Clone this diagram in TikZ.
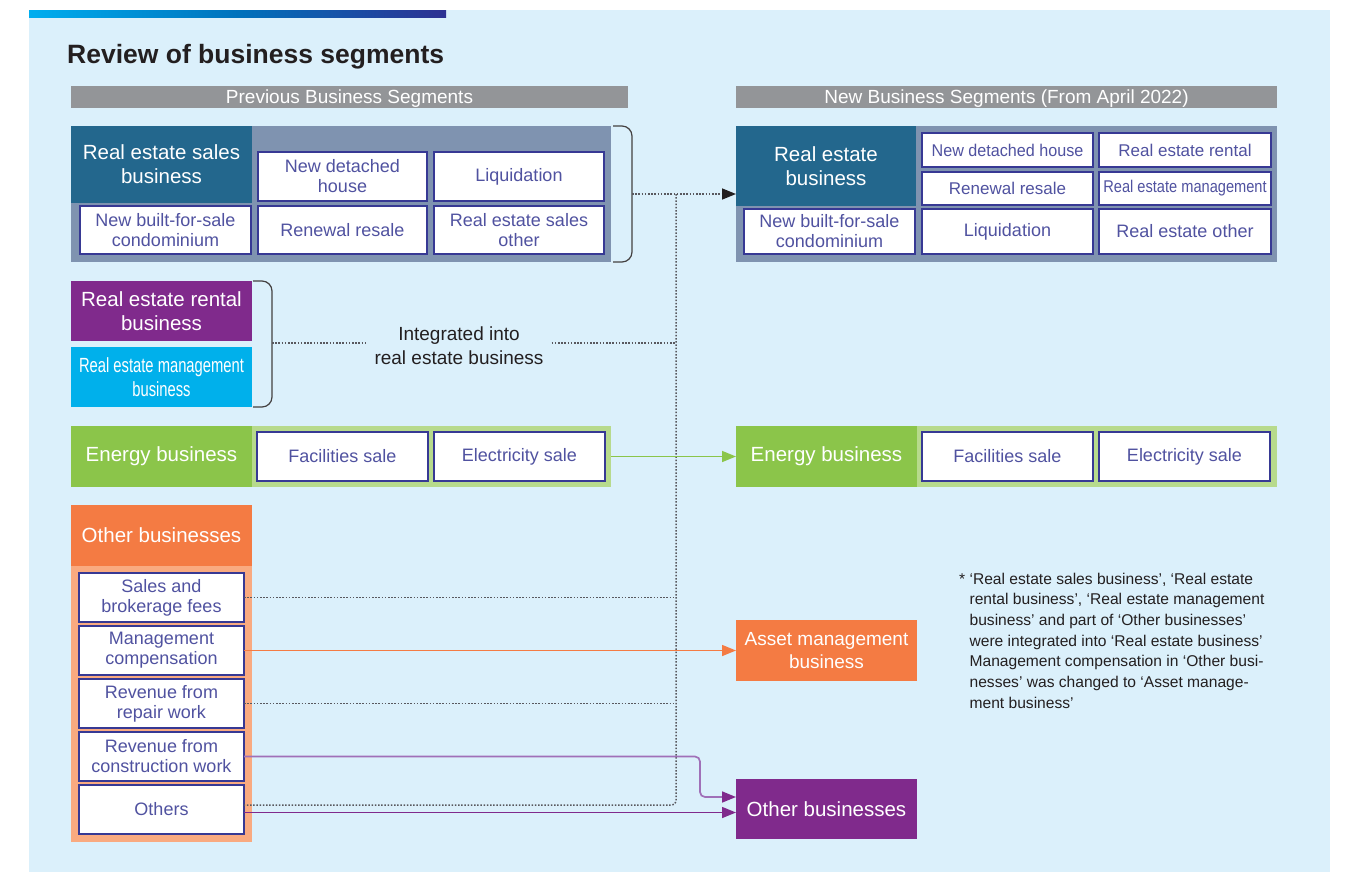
\documentclass[tikz,border=0pt]{standalone}
\usepackage{fontspec}
\setmainfont{Liberation Sans}
\newfontfamily\narrowA[FakeStretch=0.72]{Liberation Sans}
\newfontfamily\narrowB[FakeStretch=0.86]{Liberation Sans}
\newfontfamily\narrowC[FakeStretch=0.95]{Liberation Sans}
\usetikzlibrary{arrows.meta,calc}
\definecolor{bgblue}{RGB}{219,240,251}
\definecolor{slate}{RGB}{127,147,176}
\definecolor{reTeal}{RGB}{35,103,141}
\definecolor{rePurple}{RGB}{128,42,140}
\definecolor{reCyan}{RGB}{0,176,235}
\definecolor{enGreen}{RGB}{139,197,74}
\definecolor{enLight}{RGB}{183,218,140}
\definecolor{obOrange}{RGB}{244,123,67}
\definecolor{obSalmon}{RGB}{249,170,128}
\definecolor{hdrGray}{RGB}{147,149,152}
\definecolor{darkText}{RGB}{35,31,32}
\definecolor{bordC}{RGB}{55,57,148}
\definecolor{labC}{RGB}{80,82,160}
\definecolor{dotC}{RGB}{88,88,94}
\definecolor{lilac}{RGB}{160,112,184}
\definecolor{gradL}{RGB}{0,174,239}
\definecolor{gradM}{RGB}{0,114,188}
\definecolor{gradR}{RGB}{46,49,146}
\newcommand\mkbox[7]{\node[#1, minimum width={#5-#3}, minimum height={#6-#4}] (#2) at ({(#3+#5)/2},{(#4+#6)/2}) {#7};}
\tikzset{
  bx/.style={rectangle, inner sep=0pt, outer sep=0pt, align=center},
  wbox/.style={bx, fill=white, draw=bordC, line width=1.6pt, text=labC, font=\fontsize{18}{20}\selectfont},
  wboxs/.style={wbox, font=\fontsize{17}{19.5}\selectfont},
  hdr/.style={bx, text=white, font=\fontsize{20.5}{24}\selectfont},
  graybar/.style={rectangle, inner sep=0pt, outer sep=0pt, fill=hdrGray, text=white, font=\fontsize{19}{22}\selectfont, text height=13.6pt, text depth=0pt},
  dotline/.style={draw=dotC, line width=1.5pt, dash pattern=on 1.5pt off 1.7pt},
  brc/.style={draw=darkText!85, line width=1.2pt, rounded corners=10pt},
  arr/.style={-{Triangle[length=14pt,width=11pt]}},
}
\begin{document}
\begin{tikzpicture}[x=1pt,y=-1pt]
\useasboundingbox (0,0) rectangle (1345,873);
\fill[white] (0,0) rectangle (1345,873);
\fill[bgblue] (29,10) rectangle (1330,872);
\shade[left color=gradL, right color=gradR, middle color=gradM] (29,10) rectangle (446,17);

\node[anchor=base west, font=\fontsize{26.5}{30}\selectfont\bfseries, text=darkText, inner sep=0pt] (title) at (67,63) {Review of business segments};

\mkbox{graybar}{prevbar}{71}{86}{628}{108}{Previous Business Segments}
\mkbox{graybar}{newbar}{736}{86}{1277}{108}{New Business Segments (From April 2022)}

% left: real estate sales
\mkbox{bx,fill=slate}{resblk}{71}{126}{611}{262}{}
\mkbox{hdr,fill=reTeal}{reshdr}{71}{126}{252}{203}{Real estate sales\\business}
\mkbox{wbox}{resNDH}{258}{152}{427}{201}{New detached\\house}
\mkbox{wbox}{resLiq}{434}{152}{604}{201}{Liquidation}
\mkbox{wbox}{resCondo}{80}{206}{251}{254}{New built-for-sale\\condominium}
\mkbox{wbox}{resRen}{258}{206}{427}{254}{Renewal resale}
\mkbox{wbox}{resOth}{434}{206}{604}{254}{Real estate sales\\other}

% rental / management
\mkbox{hdr,fill=rePurple}{rental}{71}{281}{252}{341}{Real estate rental\\business}
\mkbox{hdr,fill=reCyan,font=\fontsize{20.5}{24}\selectfont\narrowA}{mgmtbiz}{71}{347}{252}{407}{Real estate management\\business}

% energy left
\mkbox{bx,fill=enLight}{enL}{71}{426}{611}{487}{}
\mkbox{hdr,fill=enGreen}{enLhdr}{71}{426}{252}{487}{Energy business}
\mkbox{wbox}{enLfac}{257}{432}{428}{481}{Facilities sale}
\mkbox{wbox}{enLele}{434}{432}{605}{481}{Electricity sale}

% other businesses left
\mkbox{hdr,fill=obOrange}{obhdr}{71}{505}{252}{566}{Other businesses}
\mkbox{bx,fill=obSalmon}{obpanel}{71}{566}{252}{842}{}
\mkbox{wbox}{sales}{79}{573}{244}{622}{Sales and\\brokerage fees}
\mkbox{wbox}{mgmtc}{79}{626}{244}{675}{Management\\compensation}
\mkbox{wbox}{repair}{79}{679}{244}{728}{Revenue from\\repair work}
\mkbox{wbox}{constr}{79}{732}{244}{781}{Revenue from\\construction work}
\mkbox{wbox}{others}{79}{785}{244}{834}{Others}

% right: real estate business
\mkbox{bx,fill=slate}{reblk}{736}{126}{1277}{262}{}
\mkbox{hdr,fill=reTeal}{rehdr}{736}{126}{916}{206}{Real estate\\business}
\mkbox{wboxs,font=\fontsize{17}{19.5}\selectfont\narrowC}{reNDH}{922}{133}{1093}{167}{New detached house}
\mkbox{wboxs}{reRent}{1099}{133}{1271}{167}{Real estate rental}
\mkbox{wboxs}{reRen}{922}{172}{1093}{205}{Renewal resale}
\mkbox{wboxs,font=\fontsize{17}{19.5}\selectfont\narrowB}{reMgmt}{1099}{172}{1271}{205}{Real estate management}
\mkbox{wbox}{reCondo}{744}{209}{915}{254}{New built-for-sale\\condominium}
\mkbox{wbox}{reLiq}{922}{209}{1093}{254}{Liquidation}
\mkbox{wbox}{reOth}{1099}{209}{1271}{254}{Real estate other}

% energy right
\mkbox{bx,fill=enLight}{enR}{736}{426}{1277}{487}{}
\mkbox{hdr,fill=enGreen}{enRhdr}{736}{426}{917}{487}{Energy business}
\mkbox{wbox}{enRfac}{922}{432}{1093}{481}{Facilities sale}
\mkbox{wbox}{enRele}{1099}{432}{1270}{481}{Electricity sale}

% asset / other right
\mkbox{hdr,fill=obOrange,font=\fontsize{19}{23}\selectfont}{asset}{736}{620}{917}{681}{Asset management\\business}
\mkbox{hdr,fill=rePurple}{obR}{736}{779}{917}{839}{Other businesses}

% integrated text
\node[font=\fontsize{19}{24}\selectfont, text=darkText, align=center, inner xsep=8pt, inner ysep=0pt] (integ) at (459,346) {Integrated into\\real estate business};

% braces
\draw[brc] ([xshift=2pt]resblk.north east) -- ++(19,0) -- ++(0,136) -- ++(-19,0);
\draw[brc] ([xshift=1pt]rental.north east) -- ++(19,0) -- ++(0,126) -- ++(-19,0);

% coordinates
\coordinate (b1tip) at (632,194);
\coordinate (jtop) at (676,194);
\coordinate (b2tip) at (272,343);
\coordinate (jbot) at (676,805);
\coordinate (kink) at (700,797);

% dotted connectors
\draw[dotline, -{Triangle[length=14pt,width=11pt,color=darkText]}] (b1tip) -- (reblk.west);
\draw[dotline, rounded corners=4pt] (jtop) -- (jbot) -- ([yshift=4.5pt]others.east);
\draw[dotline] (sales.east) -- (sales.east -| jtop);
\draw[dotline] (repair.east) -- (repair.east -| jtop);
\draw[dotline] (b2tip) -- (b2tip -| integ.west);
\draw[dotline] (b2tip -| integ.east) -- (b2tip -| jtop);

% solid connectors
\draw[enGreen, line width=1.5pt, arr] (enL.east) -- (enR.west);
\draw[obOrange, line width=1.5pt, arr] (mgmtc.east) -- (asset.west);
\draw[lilac, line width=1.7pt, rounded corners=5pt, -{Triangle[length=14pt,width=11pt,color=rePurple]}] (constr.east) -- (constr.east -| kink) -- ([yshift=12pt]obR.west -| kink) -- ([yshift=12pt]obR.west);
\draw[rePurple, line width=1.5pt, arr] ([yshift=-3pt]others.east) -- ([yshift=-3pt]others.east -| obR.west);

% footnote
\node[anchor=north west, align=left, font=\fontsize{15.6}{20.7}\selectfont, text=darkText, inner sep=0pt] (note) at (959,572.5) {* ‘Real estate sales business’, ‘Real estate\\
\hphantom{* }rental business’, ‘Real estate management\\
\hphantom{* }business’ and part of ‘Other businesses’\\
\hphantom{* }were integrated into ‘Real estate business’\\
\hphantom{* }Management compensation in ‘Other busi-\\
\hphantom{* }nesses’ was changed to ‘Asset manage-\\
\hphantom{* }ment business’};
\end{tikzpicture}
\end{document}
